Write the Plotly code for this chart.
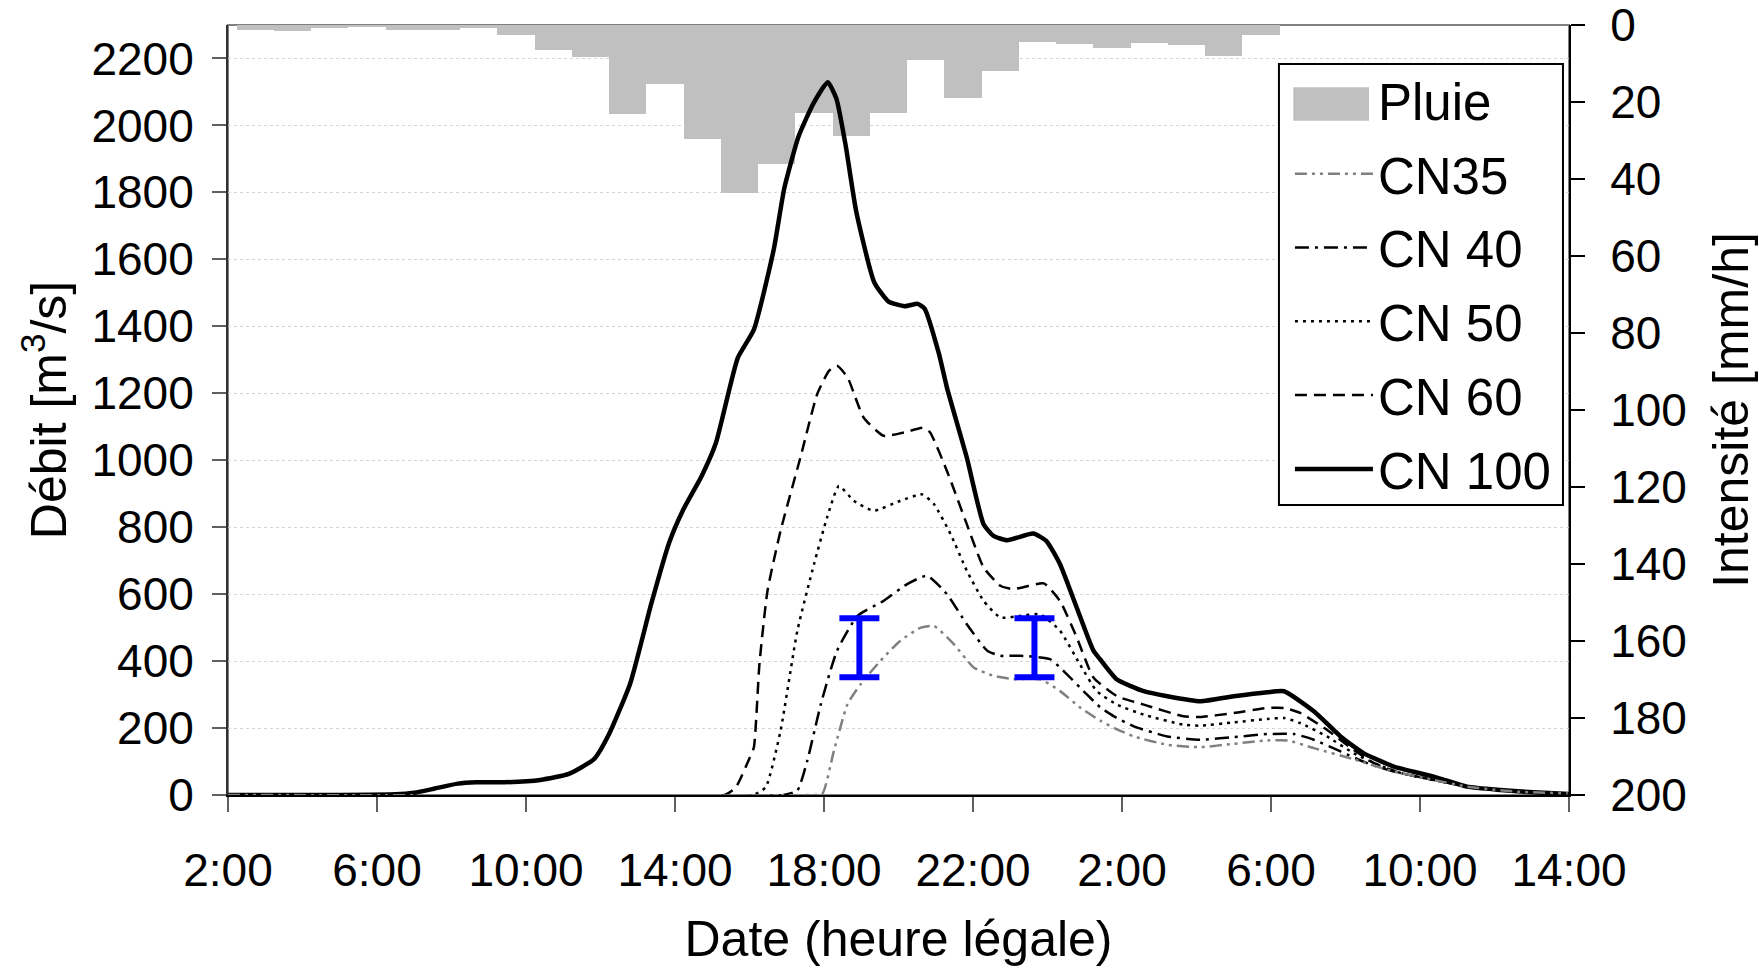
import pandas as pd
import plotly.graph_objects as go

# ---------------- data ----------------
rain_start = pd.date_range("2002-09-08 02:14", periods=28, freq="h")
rain_mmh = [1.4, 1.5, 0.85, 0.5, 1.4, 1.4, 0.85, 2.6, 6.6, 8.3, 23.1, 15.4, 29.6, 43.6,
            36.1, 22.9, 28.8, 22.9, 9.2, 19.0, 12.0, 4.5, 4.9, 6.0, 4.7, 5.2, 8.0, 2.6]

cn100_t = ["08 02:00", "08 05:00", "08 06:30", "08 07:00", "08 07:30", "08 08:10", "08 08:40",
           "08 09:25", "08 10:23", "08 11:09", "08 11:50", "08 12:13", "08 12:48", "08 13:22",
           "08 13:51", "08 14:14", "08 14:43", "08 15:06", "08 15:41", "08 16:07", "08 16:39",
           "08 16:56", "08 17:19", "08 17:43", "08 18:06", "08 18:20", "08 18:35", "08 18:52",
           "08 19:21", "08 19:44", "08 20:10", "08 20:31", "08 20:42", "08 21:05", "08 21:18",
           "08 21:50", "08 22:17", "08 22:33", "08 22:55", "08 23:37", "08 23:58", "09 00:20",
           "09 00:47", "09 01:14", "09 01:25", "09 01:52", "09 02:35", "09 03:13", "09 04:06",
           "09 05:00", "09 05:54", "09 06:21", "09 07:09", "09 07:52", "09 08:29", "09 09:18",
           "09 10:22", "09 11:16", "09 12:10", "09 13:03", "09 14:00"]
cn100_q = [0, 0, 2, 7, 18, 34, 38, 38, 45, 63, 108, 179, 334, 573, 756, 855, 953, 1052, 1305,
           1390, 1629, 1812, 1967, 2066, 2129, 2080, 1939, 1742, 1531, 1474, 1460, 1467, 1453,
           1319, 1217, 1008, 809, 774, 761, 781, 759, 690, 560, 431, 405, 345, 310, 295, 280,
           295, 307, 310, 250, 175, 125, 85, 55, 25, 15, 8, 3]

cn60_t = ["08 02:00", "08 15:20", "08 15:38", "08 16:00", "08 16:07", "08 16:16", "08 16:29",
          "08 16:50", "08 17:22", "08 17:49", "08 18:08", "08 18:21", "08 18:38", "08 19:04",
          "08 19:36", "08 20:09", "08 20:41", "08 20:51", "08 21:18", "08 21:50", "08 22:17",
          "08 22:44", "08 23:05", "08 23:54", "09 00:20", "09 00:47", "09 01:14", "09 01:52",
          "09 02:35", "09 03:39", "09 04:06", "09 05:00", "09 05:54", "09 06:21", "09 06:47",
          "09 07:30", "09 08:13", "09 08:46", "09 09:30", "09 10:22", "09 11:16", "09 12:10",
          "09 13:03", "09 14:00"]
cn60_q = [0, 0, 23, 110, 142, 391, 610, 789, 1008, 1197, 1267, 1282, 1247, 1127, 1073, 1083,
          1097, 1083, 968, 809, 680, 625, 615, 632, 580, 471, 351, 295, 270, 235, 233, 245, 260,
          260, 245, 195, 135, 95, 65, 45, 25, 14, 7, 3]

cn50_t = ["08 02:00", "08 16:05", "08 16:26", "08 16:50", "08 17:17", "08 17:44", "08 18:05",
          "08 18:24", "08 18:48", "08 19:20", "08 20:03", "08 20:38", "08 20:57", "08 21:24",
          "08 21:50", "08 22:17", "08 22:44", "08 23:16", "08 23:48", "09 00:20", "09 00:52",
          "09 01:19", "09 01:52", "09 02:35", "09 03:39", "09 04:06", "09 05:00", "09 05:54",
          "09 06:21", "09 06:47", "09 07:30", "09 08:13", "09 08:50", "09 09:30", "09 10:22",
          "09 11:16", "09 12:10", "09 13:03", "09 14:00"]
cn50_q = [0, 0, 23, 192, 490, 690, 829, 923, 879, 849, 879, 898, 869, 779, 670, 580, 530, 535,
          540, 491, 391, 311, 270, 240, 210, 207, 217, 227, 230, 215, 175, 125, 92, 65, 45, 25,
          14, 7, 3]

cn40_t = ["08 02:00", "08 16:55", "08 17:17", "08 17:33", "08 17:55", "08 18:21", "08 18:54",
          "08 19:36", "08 20:14", "08 20:46", "08 21:18", "08 21:50", "08 22:23", "08 22:44",
          "08 23:16", "09 00:04", "09 00:31", "09 01:03", "09 01:25", "09 01:47", "09 02:19",
          "09 03:13", "09 04:06", "09 05:00", "09 05:54", "09 06:37", "09 07:09", "09 07:52",
          "09 08:35", "09 09:18", "09 10:22", "09 11:16", "09 12:10", "09 13:03", "09 14:00"]
cn40_q = [0, 0, 13, 102, 272, 431, 535, 580, 630, 655, 600, 510, 431, 416, 416, 406, 361, 301,
          262, 235, 205, 175, 165, 173, 182, 182, 165, 130, 95, 70, 45, 25, 14, 7, 3]

cn35_t = ["08 02:00", "08 17:35", "08 17:57", "08 18:16", "08 18:38", "08 18:59", "08 19:31",
          "08 20:03", "08 20:36", "08 20:57", "08 21:29", "08 22:01", "08 22:33", "08 23:05",
          "08 23:48", "09 00:20", "09 00:52", "09 01:25", "09 01:51", "09 02:19", "09 03:13",
          "09 04:06", "09 05:00", "09 05:54", "09 06:27", "09 07:09", "09 08:13", "09 09:18",
          "09 10:22", "09 11:16", "09 12:36", "09 13:58"]
cn35_q = [0, 0, 3, 132, 272, 331, 401, 461, 500, 505, 451, 381, 356, 346, 346, 311, 262, 222,
          197, 175, 150, 143, 153, 163, 163, 140, 107, 70, 45, 25, 10, 5]

# observed discharge ranges (blue bars)
obs_t = ["08 18:57", "08 23:39"]
obs_low = [352, 352]
obs_high = [528, 528]

x_ticks = ["2:00", "6:00", "10:00", "14:00", "18:00", "22:00", "2:00", "6:00", "10:00", "14:00"]


def to_dt(lst):
    return pd.to_datetime(["2002-09-" + s for s in lst])


fig = go.Figure()

# rain bars hanging from the top (primary y axis, right side, reversed)
fig.add_trace(go.Bar(
    x=rain_start, y=rain_mmh, width=3600000, offset=0, name="Pluie",
    marker=dict(color="#c0c0c0", line=dict(width=0)), yaxis="y",
    legendrank=1, legendgroup="g1",
))

series = [
    ("CN 100", cn100_t, cn100_q, "black", 4.5, "solid", 6),
    ("CN 60", cn60_t, cn60_q, "black", 2.5, "12px,7px", 5),
    ("CN 50", cn50_t, cn50_q, "black", 2.5, "3px,5px", 4),
    ("CN 40", cn40_t, cn40_q, "black", 2.5, "14px,6px,3px,6px", 3),
    ("CN35", cn35_t, cn35_q, "#808080", 2.5, "12px,5px,3px,5px,3px,5px", 2),
]
for name, t, q, col, w, dash, rank in series:
    fig.add_trace(go.Scatter(
        x=to_dt(t), y=q, name=name, mode="lines", yaxis="y2",
        legendrank=rank, legendgroup="g%d" % rank,
        line=dict(color=col, width=w, dash=dash, shape="spline", smoothing=0.5),
    ))

mid = [(a + b) / 2 for a, b in zip(obs_low, obs_high)]
err = [(b - a) / 2 for a, b in zip(obs_low, obs_high)]
fig.add_trace(go.Scatter(
    x=to_dt(obs_t), y=mid, mode="markers", yaxis="y2", showlegend=False,
    marker=dict(size=1, color="rgba(0,0,0,0)"),
    error_y=dict(type="data", array=err, visible=True, color="#0000ff", thickness=6, width=20),
))

tickfont = dict(family="Liberation Sans, Arial", size=46, color="black")
titlefont = dict(family="Liberation Sans, Arial", size=50, color="black")

tickvals = pd.date_range("2002-09-08 02:00", "2002-09-09 14:00", freq="4h")

# plot area: x 228..1569 px, y 25..795 px
fig.update_layout(
    width=1759, height=972,
    margin=dict(l=228, r=190, t=25, b=177, autoexpand=False),
    paper_bgcolor="white", plot_bgcolor="white",
    bargap=0,
    showlegend=True,
    legend=dict(
        x=0.7919, y=0.9542, xanchor="left", yanchor="top",
        font=dict(family="Liberation Sans, Arial", size=51, color="black"),
        borderwidth=0, bgcolor="rgba(0,0,0,0)",
        itemwidth=78, tracegroupgap=4.5,
    ),
    xaxis=dict(
        type="date", range=["2002-09-08 02:00", "2002-09-09 14:00"],
        tickvals=tickvals, ticktext=x_ticks, automargin=False,
        ticks="outside", ticklen=15, tickwidth=1.5, tickcolor="#606060",
        showline=True, linecolor="black", linewidth=2, showgrid=False,
        tickfont=tickfont, ticklabelstandoff=19, ticklabeloverflow="allow",
        title=dict(text="Date (heure légale)", font=titlefont, standoff=26),
    ),
    yaxis=dict(
        side="right", range=[200, 0], tick0=0, dtick=20, automargin=False,
        ticks="outside", ticklen=14, tickwidth=2, tickcolor="black",
        showline=True, linecolor="black", linewidth=2, showgrid=False, zeroline=False,
        tickfont=tickfont, ticklabelstandoff=16, ticklabeloverflow="allow",
        title=dict(text="Intensité [mm/h]", font=titlefont, standoff=32),
    ),
    yaxis2=dict(
        overlaying="y", side="left", range=[0, 2300], tick0=0, dtick=200, automargin=False,
        ticks="outside", ticklen=14, tickwidth=1.5, tickcolor="#606060",
        showline=True, linecolor="#303030", linewidth=2,
        showgrid=True, gridcolor="#d4d4d4", gridwidth=1, griddash="dot", zeroline=False,
        tickfont=tickfont, ticklabelstandoff=9, ticklabeloverflow="allow",
        title=dict(text="Débit [m<sup>3</sup>/s]", font=titlefont, standoff=9),
    ),
    shapes=[
        # plot-area frame
        dict(type="rect", xref="paper", yref="paper", x0=0, x1=1, y0=0, y1=1,
             line=dict(color="#808080", width=2), layer="below"),
        # legend box
        dict(type="rect", xref="paper", yref="paper", x0=0.7837, x1=0.9955, y0=0.3766, y1=0.9495,
             line=dict(color="black", width=2), fillcolor="white", layer="above"),
        # legend key for rain bars
        dict(type="rect", xref="paper", yref="paper", x0=0.7944, x1=0.8509, y0=0.8757, y1=0.9191,
             line=dict(width=0), fillcolor="#c0c0c0", layer="above"),
    ],
)

fig.write_html("out.html", config={"displayModeBar": False},
               post_script="document.body.style.margin='0';")
